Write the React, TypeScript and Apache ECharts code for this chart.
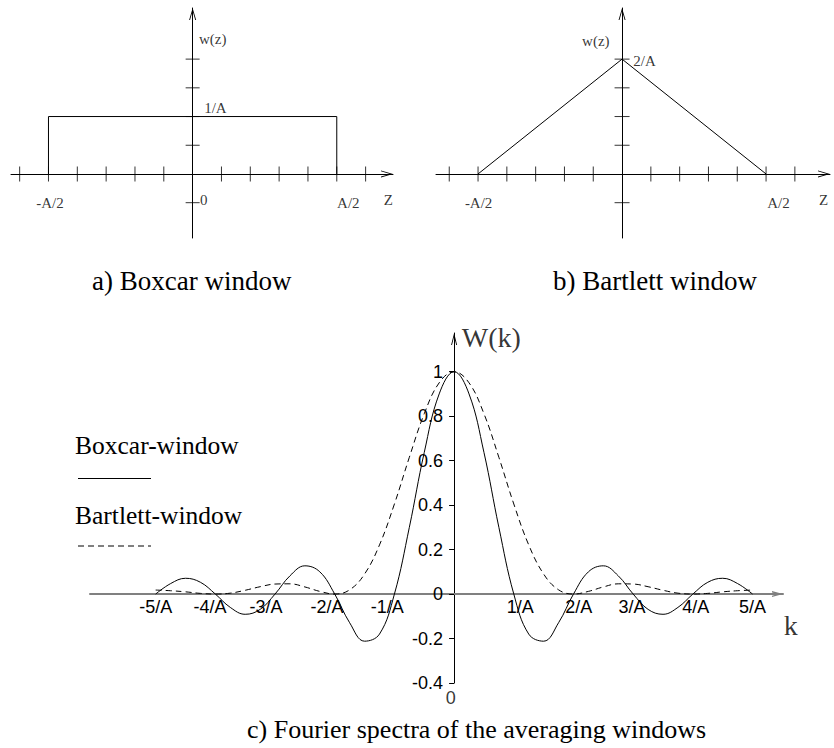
import { useEffect, useRef } from 'react';
import * as echarts from 'echarts';

// ---- a) Boxcar window: corner points of w(z), in tick units ----
const BOX_Z = [-5, -5, 5, 5];
const BOX_W = [0, 2, 2, 0];

// ---- b) Bartlett window: corner points of w(z), in tick units ----
const TRI_Z = [-5, 0, 5];
const TRI_W = [0, 4, 0];

// tick marks crossing the axes of the two window sketches
const SKETCH_X_TICKS = [-6, -5, -4, -3, -2, -1, 1, 2, 3, 4, 5, 6];
const SKETCH_Y_TICKS = [-1, 1, 2, 3, 4];

// annotation texts of the sketches
const PANEL_A_TEXT = ['w(z)', '1/A', '-A/2', '0', 'A/2', 'Z'];
const PANEL_B_TEXT = ['w(z)', '2/A', '-A/2', 'A/2', 'Z'];

// ---- c) Fourier spectra, k in units of 1/A ----
const K = [
  -5, -4.75, -4.5, -4.25, -4, -3.75, -3.5, -3.25, -3, -2.75, -2.5, -2.25, -2, -1.75, -1.5, -1.25, -1,
  -0.75, -0.5, -0.25, 0, 0.25, 0.5, 0.75, 1, 1.25, 1.5, 1.75, 2, 2.25, 2.5, 2.75, 3, 3.25, 3.5, 3.75,
  4, 4.25, 4.5, 4.75, 5,
];
const BOXCAR_W = [
  0, 0.047, 0.071, 0.053, 0, -0.06, -0.091, -0.069, 0, 0.082, 0.127, 0.1, 0, -0.129, -0.212, -0.18, 0,
  0.3, 0.637, 0.9, 1, 0.9, 0.637, 0.3, 0, -0.18, -0.212, -0.129, 0, 0.1, 0.127, 0.082, 0, -0.069,
  -0.091, -0.06, 0, 0.053, 0.071, 0.047, 0,
];
const BARTLETT_W = [
  0.018, 0.015, 0.01, 0.003, 0, 0.004, 0.017, 0.033, 0.045, 0.046, 0.032, 0.012, 0, 0.019, 0.09,
  0.221, 0.405, 0.615, 0.811, 0.95, 1, 0.95, 0.811, 0.615, 0.405, 0.221, 0.09, 0.019, 0, 0.012, 0.032,
  0.046, 0.045, 0.033, 0.017, 0.004, 0, 0.003, 0.01, 0.015, 0.018,
];
const Y_TICKS_C = [-0.4, -0.2, 0, 0.2, 0.4, 0.6, 0.8, 1];
const X_LABEL_POS_C = [-5, -4.09, -3.15, -2.13, -1.12, 1.11, 2.09, 2.98, 4.05, 5];
const X_LABEL_TEXT_C = ['-5/A', '-4/A', '-3/A', '-2/A', '-1/A', '1/A', '2/A', '3/A', '4/A', '5/A'];
const PANEL_C_TEXT = ['W(k)', 'k', '0'];

const LEGEND_TEXT = ['Boxcar-window', 'Bartlett-window'];
const CAPTIONS = [
  'a) Boxcar window',
  'b) Bartlett window',
  'c) Fourier spectra of the averaging windows',
];

const SERIF = '"Liberation Serif", "Times New Roman", serif';
const SANS = '"Liberation Sans", Arial, sans-serif';

// open arrow heads drawn as thin filled chevrons (tip up, rotated by the axis)
const CHEVRON_SKETCH = 'path://M3.5,0 L7,12 L6.1,12 L3.5,3.09 L0.9,12 L0,12 Z';
const CHEVRON_K = 'path://M3,0 L6,11 L4.6,11 L3,5.13 L1.4,11 L0,11 Z';
const CHEVRON_W = 'path://M3,0 L6,12 L5.1,12 L3,3.6 L0.9,12 L0,12 Z';

// spectra frame: grid box and axis ranges
const C_LEFT = 90;
const C_TOP = 333;
const C_WIDTH = 693;
const C_HEIGHT = 350;
const C_XMIN = -6.1;
const C_XMAX = 5.51;
const C_YMIN = -0.4;
const C_YMAX = 1.174;

const pairs = (xs: number[], ys: number[]) => xs.map((x, i) => [x, ys[i]]);

type Placed = { name: string; value: number[]; align: string };

function textSeries(idx: number, items: Placed[], fontFamily: string, fontSize: number) {
  return {
    type: 'scatter',
    xAxisIndex: idx,
    yAxisIndex: idx,
    clip: false,
    silent: true,
    symbol: 'circle',
    symbolSize: 1,
    itemStyle: { color: 'rgba(0,0,0,0)' },
    label: {
      show: true,
      position: 'inside',
      formatter: '{b}',
      color: '#000',
      fontFamily,
      fontSize,
      verticalAlign: 'middle',
    },
    data: items.map((it) => ({ name: it.name, value: it.value, label: { align: it.align } })),
    z: 6,
  };
}

function tickSeries(idx: number, data: number[][], size: number[]) {
  return {
    type: 'scatter',
    xAxisIndex: idx,
    yAxisIndex: idx,
    silent: true,
    symbol: 'rect',
    symbolSize: size,
    itemStyle: { color: '#000' },
    data,
    z: 4,
  };
}

function sketchAxis(min: number, max: number, idx: number) {
  return {
    type: 'value',
    gridIndex: idx,
    min,
    max,
    axisLine: {
      onZero: true,
      lineStyle: { color: '#000', width: 1 },
      symbol: ['none', CHEVRON_SKETCH],
      symbolSize: [7, 12],
      symbolOffset: [0, -6],
    },
    axisTick: { show: false },
    axisLabel: { show: false },
    splitLine: { show: false },
  };
}

function textGraphic(text: string, x: number, y: number, fontSize: number) {
  return {
    type: 'text',
    x,
    y,
    silent: true,
    style: {
      text,
      fill: '#000',
      font: `${fontSize}px ${SERIF}`,
      align: 'left',
      verticalAlign: 'middle',
    },
  };
}

function buildOption() {
  const lineStyle = { color: '#000', width: 1 };
  const placedA: Placed[] = [
    { name: PANEL_A_TEXT[0], value: [0.22, 4.7], align: 'left' },
    { name: PANEL_A_TEXT[1], value: [0.4, 2.29], align: 'left' },
    { name: PANEL_A_TEXT[2], value: [-4.95, -1.02], align: 'center' },
    { name: PANEL_A_TEXT[3], value: [0.385, -0.89], align: 'center' },
    { name: PANEL_A_TEXT[4], value: [5.4, -1.02], align: 'center' },
    { name: PANEL_A_TEXT[5], value: [6.79, -0.89], align: 'center' },
  ];
  const placedB: Placed[] = [
    { name: PANEL_B_TEXT[0], value: [-0.91, 4.64], align: 'center' },
    { name: PANEL_B_TEXT[1], value: [0.39, 3.94], align: 'left' },
    { name: PANEL_B_TEXT[2], value: [-4.98, -1.02], align: 'center' },
    { name: PANEL_B_TEXT[3], value: [5.43, -1.02], align: 'center' },
    { name: PANEL_B_TEXT[4], value: [7.0, -0.9], align: 'center' },
  ];
  const placedCSerif: Placed[] = [
    { name: PANEL_C_TEXT[0], value: [0.129, 1.152], align: 'left' },
    { name: PANEL_C_TEXT[1], value: [5.64, -0.141], align: 'center' },
  ];
  const placedCSans: Placed[] = [{ name: PANEL_C_TEXT[2], value: [-0.055, -0.467], align: 'center' }];

  // the spectra axes cross at k = 0, W = 0: shift them there from the grid edges
  const yAxisShift = ((0 - C_XMIN) / (C_XMAX - C_XMIN)) * C_WIDTH;
  const xAxisShift = ((0 - C_YMIN) / (C_YMAX - C_YMIN)) * C_HEIGHT;

  return {
    animation: false,
    backgroundColor: '#fff',
    grid: [
      { left: 11, top: 8, width: 382, height: 230, containLabel: false, outerBoundsMode: 'none' },
      { left: 436, top: 8, width: 394, height: 230, containLabel: false, outerBoundsMode: 'none' },
      {
        left: C_LEFT,
        top: C_TOP,
        width: C_WIDTH,
        height: C_HEIGHT,
        containLabel: false,
        outerBoundsMode: 'none',
      },
    ],
    xAxis: [
      sketchAxis(-6.3, 6.95, 0),
      sketchAxis(-6.46, 7.22, 1),
      {
        type: 'value',
        gridIndex: 2,
        position: 'bottom',
        offset: -xAxisShift,
        min: C_XMIN,
        max: C_XMAX,
        axisLine: {
          onZero: false,
          lineStyle: { color: '#808080', width: 2 },
          symbol: ['none', CHEVRON_K],
          symbolSize: [6, 11],
          symbolOffset: [0, -5.5],
        },
        axisTick: { show: false },
        axisLabel: {
          customValues: X_LABEL_POS_C,
          formatter: (v: number) => {
            const i = X_LABEL_POS_C.findIndex((p) => Math.abs(p - v) < 1e-6);
            return i >= 0 ? X_LABEL_TEXT_C[i] : '';
          },
          margin: 4,
          color: '#000',
          fontFamily: SANS,
          fontSize: 18,
        },
        splitLine: { show: false },
      },
    ],
    yAxis: [
      sketchAxis(-2.23, 5.78, 0),
      sketchAxis(-2.23, 5.78, 1),
      {
        type: 'value',
        gridIndex: 2,
        position: 'left',
        offset: -yAxisShift,
        min: C_YMIN,
        max: C_YMAX,
        axisLine: {
          onZero: false,
          lineStyle: { color: '#000', width: 1 },
          symbol: ['none', CHEVRON_W],
          symbolSize: [6, 12],
          symbolOffset: [0, -6],
        },
        axisTick: { show: true, length: 5, lineStyle: { color: '#000' }, customValues: Y_TICKS_C },
        axisLabel: {
          customValues: Y_TICKS_C,
          margin: 11,
          color: '#000',
          fontFamily: SANS,
          fontSize: 18,
        },
        splitLine: { show: false },
      },
    ],
    series: [
      // a) boxcar sketch
      {
        type: 'line',
        xAxisIndex: 0,
        yAxisIndex: 0,
        data: pairs(BOX_Z, BOX_W),
        showSymbol: false,
        silent: true,
        lineStyle,
        z: 3,
      },
      tickSeries(0, SKETCH_X_TICKS.map((t) => [t, 0]), [1, 15]),
      tickSeries(0, SKETCH_Y_TICKS.map((t) => [0, t]), [14, 1]),
      textSeries(0, placedA, SERIF, 15),
      // b) Bartlett sketch
      {
        type: 'line',
        xAxisIndex: 1,
        yAxisIndex: 1,
        data: pairs(TRI_Z, TRI_W),
        showSymbol: false,
        silent: true,
        lineStyle,
        z: 3,
      },
      tickSeries(1, SKETCH_X_TICKS.map((t) => [t, 0]), [1, 15]),
      tickSeries(1, SKETCH_Y_TICKS.map((t) => [0, t]), [15, 1]),
      textSeries(1, placedB, SERIF, 15),
      // c) spectra
      {
        name: LEGEND_TEXT[0],
        type: 'line',
        xAxisIndex: 2,
        yAxisIndex: 2,
        data: pairs(K, BOXCAR_W),
        showSymbol: false,
        smooth: 0.4,
        silent: true,
        lineStyle,
        z: 3,
      },
      {
        name: LEGEND_TEXT[1],
        type: 'line',
        xAxisIndex: 2,
        yAxisIndex: 2,
        data: pairs(K, BARTLETT_W),
        showSymbol: false,
        smooth: 0.4,
        silent: true,
        lineStyle: { color: '#000', width: 1, type: [6, 4] },
        z: 3,
      },
      textSeries(2, placedCSerif, SERIF, 28),
      textSeries(2, placedCSans, SANS, 18),
    ],
    graphic: [
      textGraphic(CAPTIONS[0], 92, 281, 27),
      textGraphic(CAPTIONS[1], 553, 281, 27),
      textGraphic(CAPTIONS[2], 247, 729, 26),
      textGraphic(LEGEND_TEXT[0], 75, 445.5, 25.5),
      {
        type: 'line',
        silent: true,
        shape: { x1: 78, y1: 478.5, x2: 151, y2: 478.5 },
        style: { stroke: '#000', lineWidth: 1 },
      },
      textGraphic(LEGEND_TEXT[1], 75, 515, 25.5),
      {
        type: 'line',
        silent: true,
        shape: { x1: 78, y1: 546, x2: 151, y2: 546 },
        style: { stroke: '#000', lineWidth: 1, lineDash: [6, 4] },
      },
    ],
  };
}

export default function App() {
  const ref = useRef<HTMLDivElement>(null);
  useEffect(() => {
    if (!ref.current) return;
    const chart = echarts.init(ref.current, null, { renderer: 'svg' });
    chart.setOption(buildOption() as any);
    return () => chart.dispose();
  }, []);
  return (
    <div
      ref={ref}
      style={{ position: 'fixed', left: 0, top: 0, width: 834, height: 748, background: '#fff' }}
    />
  );
}
